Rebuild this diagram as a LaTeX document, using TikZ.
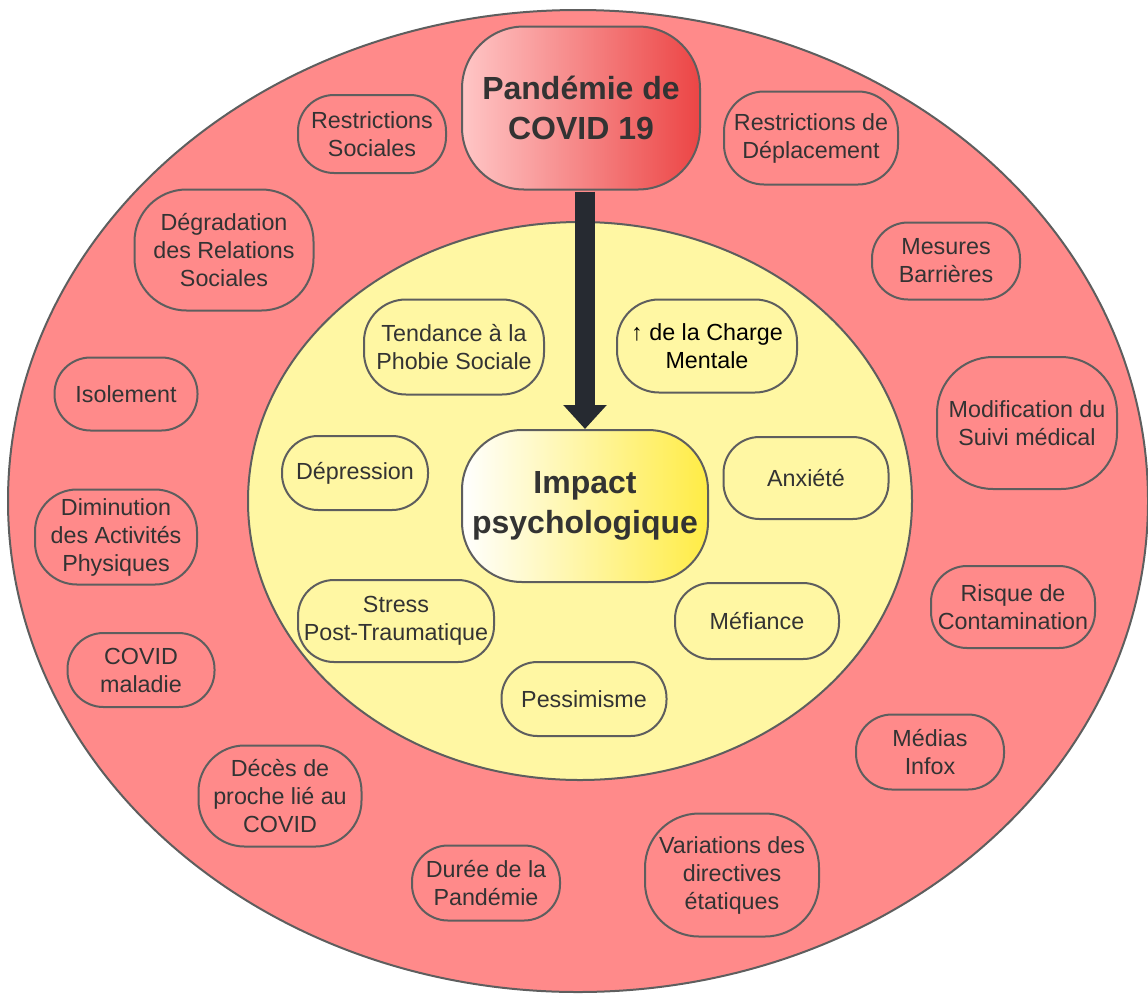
\documentclass[tikz,border=0pt]{standalone}
\usepackage{fontspec}
\setmainfont{Liberation Sans}
\usetikzlibrary{arrows.meta}
\definecolor{outerfill}{HTML}{FF8A8A}
\definecolor{innerfill}{HTML}{FFF7A3}
\definecolor{bordercol}{HTML}{5E5E5E}
\definecolor{textcol}{HTML}{333333}
\definecolor{arrowcol}{HTML}{262A31}
\definecolor{titleleft}{HTML}{FFC6C6}
\definecolor{titleright}{HTML}{EC4545}
\definecolor{impright}{HTML}{FFEC45}
\tikzset{
  lab/.style={draw=bordercol, line width=2pt, rounded corners=36pt, align=center,
    inner sep=0pt, text=textcol, font=\fontsize{23.3}{28}\selectfont},
  outerlab/.style={lab, fill=outerfill},
  innerlab/.style={lab, fill=innerfill},
  big/.style={draw=bordercol, line width=2pt, align=center, inner sep=0pt,
    text=textcol, font=\bfseries\fontsize{32}{40}\selectfont},
  sz/.style 2 args={minimum width=#1pt, minimum height=#2pt}
}
\begin{document}
\begin{tikzpicture}[x=1pt,y=-1pt]
\useasboundingbox (0,0) rectangle (1148,994);
% rings
\path[draw=bordercol, line width=2pt, fill=outerfill] (578,501) ellipse [x radius=570, y radius=491];
\path[draw=bordercol, line width=2pt, fill=innerfill] (580,501) ellipse [x radius=332, y radius=279];

% central nodes
\node[big, sz={238}{163}, rounded corners=62pt, left color=titleleft, right color=titleright] (title) at (581,108) {Pandémie de\\COVID 19};
\node[big, sz={246}{152}, rounded corners=60pt, left color=white, right color=impright] (imp) at (585,506) {Impact\\psychologique};
\draw[arrowcol, line width=20pt, -{Triangle[width=42pt,length=24pt]}, shorten <=1pt] (title.south -| imp.north) -- (imp.north);

% outer ring nodes
\node[outerlab, sz={148}{78}] (rs) at (372,134) {Restrictions\\Sociales};
\node[outerlab, sz={174}{93}, rounded corners=40pt] (rd) at (811,138) {Restrictions de\\Déplacement};
\node[outerlab, sz={179}{121}, rounded corners=52pt] (drs) at (224,250) {Dégradation\\des Relations\\Sociales};
\node[outerlab, sz={148}{77}] (mb) at (946,261) {Mesures\\Barrières};
\node[outerlab, sz={143}{73}] (iso) at (126,394) {Isolement};
\node[outerlab, sz={180}{132}, rounded corners=56pt] (msm) at (1027,423) {Modification du\\Suivi médical};
\node[outerlab, sz={162}{95}, rounded corners=42pt] (dap) at (116,537) {Diminution\\des Activités\\Physiques};
\node[outerlab, sz={164}{82}] (rc) at (1013,607) {Risque de\\Contamination};
\node[outerlab, sz={147}{74}] (cm) at (141,670) {COVID\\maladie};
\node[outerlab, sz={148}{75}] (mi) at (930,752) {Médias\\Infox};
\node[outerlab, sz={163}{101}, rounded corners=46pt] (dpl) at (280,796) {Décès de\\proche lié au\\COVID};
\node[outerlab, sz={148}{75}] (dlp) at (486,883) {Durée de la\\Pandémie};
\node[outerlab, sz={174}{123}, rounded corners=54pt] (vde) at (732,875) {Variations des\\directives\\étatiques};

% inner ring nodes
\node[innerlab, sz={180}{95}, rounded corners=42pt] (tps) at (454,347) {Tendance à la\\Phobie Sociale};
\node[innerlab, sz={180}{93}, rounded corners=42pt, text=black] (cme) at (707,346) {↑ de la Charge\\Mentale};
\node[innerlab, sz={146}{74}] (dep) at (355,473) {Dépression};
\node[innerlab, sz={165}{82}] (anx) at (806,478) {Anxiété};
\node[innerlab, sz={196}{82}] (spt) at (396,621) {Stress\\Post-Traumatique};
\node[innerlab, sz={164}{76}] (mef) at (757,621) {Méfiance};
\node[innerlab, sz={165}{74}] (pes) at (584,699) {Pessimisme};
\end{tikzpicture}
\end{document}
